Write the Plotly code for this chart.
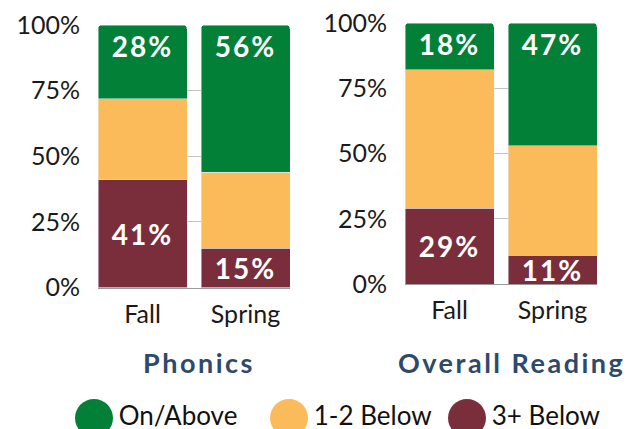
import plotly.graph_objects as go

# ---- data ----
terms = ["Fall", "Spring"]
phonics_on_above = [28, 56]
phonics_1_2_below = [31, 29]
phonics_3_below = [41, 15]
reading_on_above = [18, 47]
reading_1_2_below = [53, 42]
reading_3_below = [29, 11]
panel_titles = ["Phonics", "Overall Reading"]
level_names = ["On/Above", "1-2 Below", "3+ Below"]
y_ticks = [0, 25, 50, 75, 100]
y_tick_labels = ["0%", "25%", "50%", "75%", "100%"]

# ---- styles ----
GREEN = "#028037"
YELLOW = "#FCBB5B"
MAROON = "#7A2E3B"
TITLE_COLOR = "#2E4A6B"
FONT = "Lato"
W, H = 631, 429

fig = go.Figure()

def pct_label(v):
    return f'<span style="letter-spacing:2px">{v}%</span>'

def add_panel(on, mid, low, xa, ya):
    fig.add_trace(go.Bar(x=terms, y=low, marker_color=MAROON, xaxis=xa, yaxis=ya,
                         text=[pct_label(v) for v in low], textposition="inside",
                         insidetextanchor="middle", textangle=0, constraintext="none",
                         textfont=dict(family=FONT, size=28, color="white", weight="bold"),
                         showlegend=False, hoverinfo="skip"))
    fig.add_trace(go.Bar(x=terms, y=mid, marker_color=YELLOW, xaxis=xa, yaxis=ya,
                         showlegend=False, hoverinfo="skip"))
    fig.add_trace(go.Bar(x=terms, y=on, marker_color=GREEN, xaxis=xa, yaxis=ya,
                         text=[pct_label(v) for v in on], textposition="inside",
                         insidetextanchor="end", textangle=0, constraintext="none",
                         textfont=dict(family=FONT, size=28, color="white", weight="bold"),
                         showlegend=False, hoverinfo="skip"))

add_panel(phonics_on_above, phonics_1_2_below, phonics_3_below, "x", "y")
add_panel(reading_on_above, reading_1_2_below, reading_3_below, "x2", "y2")

# custom legend with large circles (positions in figure pixels)
legend_x = [86, 281, 459]
fig.add_trace(go.Scatter(x=legend_x, y=[0, 0, 0], xaxis="x3", yaxis="y3",
                         mode="markers+text", text=level_names, textposition="middle right",
                         marker=dict(size=38, color=[GREEN, YELLOW, MAROON], line=dict(width=0)),
                         textfont=dict(family=FONT, size=26, color="#111111"),
                         cliponaxis=False, showlegend=False, hoverinfo="skip"))

def px_x(a, b):
    return [a / W, b / W]

def px_y(top, bottom):
    return [1 - bottom / H, 1 - top / H]

xcommon = dict(range=[-0.432, 1.432], showgrid=False, showline=True, linecolor="#999999",
               linewidth=1, ticks="", ticklabelstandoff=4, automargin=False,
               tickfont=dict(family=FONT, size=25, color="#1a1a1a"), fixedrange=True)
ycommon = dict(range=[0, 100], tickvals=y_ticks, ticktext=y_tick_labels, showgrid=True,
               gridcolor="#C4C4C4", gridwidth=1, zeroline=False, showline=False, ticks="",
               ticklabelstandoff=17, ticklabeloverflow="allow",
               tickfont=dict(family=FONT, size=25, color="#1a1a1a"),
               automargin=False, fixedrange=True)

def title_text(t):
    return f'<span style="letter-spacing:2.5px">{t}</span>'

fig.update_layout(
    width=W, height=H,
    margin=dict(l=0, r=0, t=0, b=0, pad=0),
    paper_bgcolor="white", plot_bgcolor="white",
    barmode="stack", bargap=0.136, barcornerradius=4,
    xaxis=dict(domain=px_x(90, 282), anchor="y", **xcommon),
    yaxis=dict(domain=px_y(17, 279.5), anchor="x", **ycommon),
    xaxis2=dict(domain=px_x(397, 589), anchor="y2", **xcommon),
    yaxis2=dict(domain=px_y(15, 276), anchor="x2", **ycommon),
    xaxis3=dict(domain=[0, 1], range=[0, W], visible=False, anchor="y3", fixedrange=True, automargin=False),
    yaxis3=dict(domain=[0, 38 / H], range=[-1, 1], visible=False, anchor="x3", fixedrange=True, automargin=False),
    annotations=[
        dict(text=title_text(panel_titles[0]), x=191 / W, y=1 - 354 / H, xref="paper", yref="paper",
             showarrow=False, xanchor="center", yanchor="middle",
             font=dict(family=FONT, size=27, color=TITLE_COLOR, weight="bold")),
        dict(text=title_text(panel_titles[1]), x=504 / W, y=1 - 354 / H, xref="paper", yref="paper",
             showarrow=False, xanchor="center", yanchor="middle",
             font=dict(family=FONT, size=27, color=TITLE_COLOR, weight="bold")),
    ],
    font=dict(family=FONT),
)

fig.write_html("out.html")
